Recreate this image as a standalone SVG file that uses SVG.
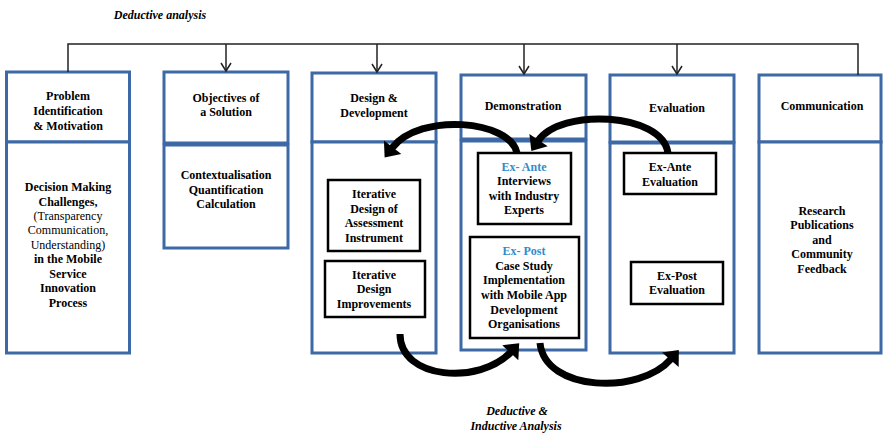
<svg xmlns="http://www.w3.org/2000/svg" width="883" height="433" viewBox="0 0 883 433">
<style>
.col{fill:#fff;stroke:#3d69a6;stroke-width:3}
.box{fill:#fff;stroke:#000;stroke-width:2.5}
.t{font-family:"Liberation Serif","Times New Roman",serif;font-size:12px;font-weight:bold;fill:#000;text-anchor:middle}
.n{font-weight:normal}
.blue{fill:#2f8ccc}
.it{font-style:italic}
.conn{fill:none;stroke:#222;stroke-width:1.5}
.big{fill:none;stroke:#000;stroke-width:7}
</style>
<defs>
<marker id="v" markerUnits="userSpaceOnUse" markerWidth="12" markerHeight="10" viewBox="0 0 12 10" refX="6" refY="9" orient="0" overflow="visible">
<path d="M1,1 L6,9 L11,1" fill="none" stroke="#222" stroke-width="1.5"/>
</marker>
<marker id="h" markerUnits="userSpaceOnUse" markerWidth="14" markerHeight="22" viewBox="0 0 14 22" refX="1" refY="11" orient="auto" overflow="visible">
<path d="M0,0 L13,11 L0,22 z" fill="#000"/>
</marker>
</defs>

<text class="t it" x="160" y="19">Deductive analysis</text>

<g id="col1">
<rect class="col" x="6.5" y="72" width="123" height="70"/>
<rect class="col" x="6.5" y="142" width="123" height="211"/>
<text class="t" x="68" y="100">Problem</text>
<text class="t" x="68" y="115">Identification</text>
<text class="t" x="68" y="130">&amp; Motivation</text>
<text class="t" x="68" y="191">Decision Making</text>
<text class="t" x="68" y="206">Challenges,</text>
<text class="t n" x="68" y="220">(Transparency</text>
<text class="t n" x="68" y="234">Communication,</text>
<text class="t n" x="68" y="249">Understanding)</text>
<text class="t" x="68" y="263">in the Mobile</text>
<text class="t" x="68" y="278">Service</text>
<text class="t" x="68" y="292">Innovation</text>
<text class="t" x="68" y="307">Process</text>
</g>

<g id="col2">
<rect class="col" x="164" y="72" width="124" height="71"/>
<rect class="col" x="164" y="145" width="124" height="103"/>
<text class="t" x="226" y="102">Objectives of</text>
<text class="t" x="226" y="116">a Solution</text>
<text class="t" x="226" y="179">Contextualisation</text>
<text class="t" x="226" y="194">Quantification</text>
<text class="t" x="226" y="208">Calculation</text>
</g>

<g id="col3">
<rect class="col" x="312" y="73" width="124" height="69"/>
<rect class="col" x="312" y="142" width="124" height="211"/>
<text class="t" x="374" y="102">Design &amp;</text>
<text class="t" x="374" y="117">Development</text>
</g>
<g id="iter1">
<rect class="box" x="328" y="180" width="92" height="71"/>
<text class="t" x="374" y="198">Iterative</text>
<text class="t" x="374" y="213">Design of</text>
<text class="t" x="374" y="227">Assessment</text>
<text class="t" x="374" y="242">Instrument</text>
</g>
<g id="iter2">
<rect class="box" x="325" y="261" width="100" height="56"/>
<text class="t" x="374" y="279">Iterative</text>
<text class="t" x="374" y="293">Design</text>
<text class="t" x="374" y="308">Improvements</text>
</g>

<g id="col4">
<rect class="col" x="461" y="75" width="125" height="64"/>
<rect class="col" x="461" y="141" width="125" height="209"/>
<text class="t" x="523" y="110">Demonstration</text>
</g>
<g id="exante">
<rect class="box" x="478" y="153" width="93" height="71"/>
<text class="t blue" x="524" y="171">Ex- Ante</text>
<text class="t" x="524" y="185">Interviews</text>
<text class="t" x="524" y="200">with Industry</text>
<text class="t" x="524" y="214">Experts</text>
</g>
<g id="expost">
<rect class="box" x="470" y="237" width="109" height="101"/>
<text class="t blue" x="524" y="255">Ex- Post</text>
<text class="t" x="524" y="270">Case Study</text>
<text class="t" x="524" y="284">Implementation</text>
<text class="t" x="524" y="299">with Mobile App</text>
<text class="t" x="524" y="314">Development</text>
<text class="t" x="524" y="328">Organisations</text>
</g>

<g id="col5">
<rect class="col" x="610" y="75" width="124" height="67"/>
<rect class="col" x="610" y="143" width="124" height="210"/>
<text class="t" x="677" y="112">Evaluation</text>
</g>
<g id="exanteeval">
<rect class="box" x="624" y="153" width="92" height="41"/>
<text class="t" x="670" y="171">Ex-Ante</text>
<text class="t" x="670" y="186">Evaluation</text>
</g>
<g id="exposteval">
<rect class="box" x="631" y="262" width="92" height="42"/>
<text class="t" x="677" y="280">Ex-Post</text>
<text class="t" x="677" y="294">Evaluation</text>
</g>

<g id="col6">
<rect class="col" x="759" y="75" width="122" height="67"/>
<rect class="col" x="759" y="142" width="122" height="211"/>
<text class="t" x="822" y="110">Communication</text>
<text class="t" x="822" y="215">Research</text>
<text class="t" x="822" y="229">Publications</text>
<text class="t" x="822" y="244">and</text>
<text class="t" x="822" y="258">Community</text>
<text class="t" x="822" y="273">Feedback</text>
</g>

<g id="connectors">
<path class="conn" d="M68,72 V44 H858 V75"/>
<path class="conn" d="M226,44 V71" marker-end="url(#v)"/>
<path class="conn" d="M377,44 V72" marker-end="url(#v)"/>
<path class="conn" d="M524,44 V74" marker-end="url(#v)"/>
<path class="conn" d="M677,44 V74" marker-end="url(#v)"/>
<path class="big" d="M517,153 C510,120 420,112 392,148" marker-end="url(#h)"/>
<path class="big" d="M668,153 C662,112 560,108 538,141" marker-end="url(#h)"/>
<path class="big" d="M400,334 C400,380 480,385 511,352" marker-end="url(#h)"/>
<path class="big" d="M540,343 C545,392 640,395 671,359" marker-end="url(#h)"/>
</g>

<text class="t it" x="517" y="415">Deductive &amp;</text>
<text class="t it" x="516" y="430">Inductive Analysis</text>
</svg>
